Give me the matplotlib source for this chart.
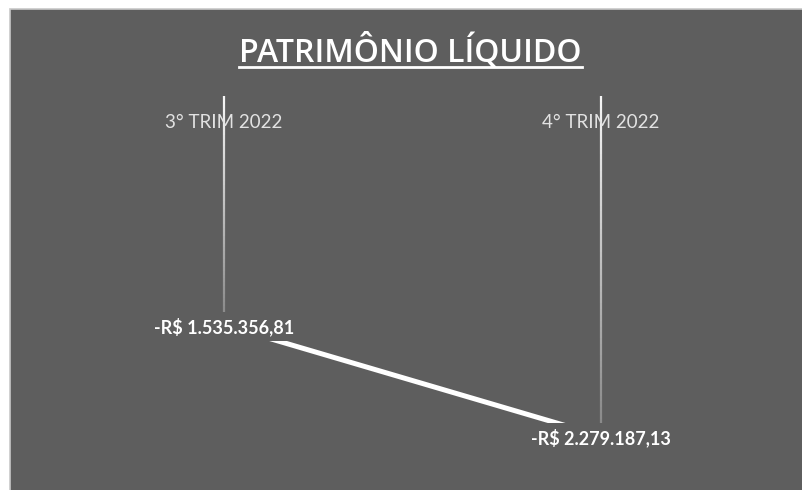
import numpy as np
import matplotlib.pyplot as plt
from matplotlib.collections import LineCollection
from matplotlib.patches import Rectangle
from matplotlib.lines import Line2D

categorias = ["3° TRIM 2022", "4° TRIM 2022"]
valores = [-1535356.81, -2279187.13]
rotulos = ["-R$ 1.535.356,81", "-R$ 2.279.187,13"]
titulo = "PATRIMÔNIO LÍQUIDO"

W, H = 803, 490
fundo = "#5e5e5e"

fig = plt.figure(figsize=(W / 100, H / 100), dpi=100)
fig.patch.set_facecolor("white")
fig.patches.append(Rectangle((10 / W, -0.1), 1, 1.1 - 9 / H, transform=fig.transFigure,
                             facecolor=fundo, edgecolor="#c8c8c8", lw=1.2, zorder=-1))

# plot area: category 0 at x=224px, 1 at x=601px; zero at y=96px
left = (224 - 188.5) / W
ax = fig.add_axes([left, (H - 469) / H, 754 / W, 373 / H])
ax.set_facecolor("none")
ax.set_xlim(-0.5, 1.5)
ax.set_ylim(-2.5e6, 0)
for s in ax.spines.values():
    s.set_visible(False)
ax.set_xticks([])
ax.set_yticks([])

x = np.arange(len(valores))

# drop lines with fading
for xi, v in zip(x, valores):
    ys = np.linspace(0, v, 60)
    segs = [[(xi, ys[i]), (xi, ys[i + 1])] for i in range(len(ys) - 1)]
    alphas = np.linspace(0.95, 0.25, len(segs))
    cols = [(1, 1, 1, a) for a in alphas]
    ax.add_collection(LineCollection(segs, colors=cols, linewidths=1.6, zorder=1))

ax.plot(x, valores, color="white", lw=3.6, solid_capstyle="butt", zorder=2)

for xi, v, r in zip(x, valores, rotulos):
    ax.annotate(r, (xi, v), xytext=(0, -1), textcoords="offset points",
                ha="center", va="center", fontsize=13, fontweight="bold",
                family="Lato", color="white", zorder=5,
                bbox=dict(boxstyle="square,pad=0.3", facecolor=fundo, edgecolor="none"))

for xi, c in zip(x, categorias):
    ax.text(xi, 1 - (122 - 96) / 373, c, transform=ax.get_xaxis_transform(),
            ha="center", va="center", fontsize=13.5, family="Lato",
            color="#e2e2e2", zorder=5)

t = fig.text(410.5 / W, 1 - 62 / H, titulo, ha="center", va="baseline",
             fontsize=23, fontweight="semibold", family="Open Sans", color="white")

fig.canvas.draw()
bb = t.get_window_extent()
yl = (H - 67) / H
fig.lines.append(Line2D([bb.x0 / W, bb.x1 / W], [yl, yl], transform=fig.transFigure,
                        color="white", lw=2))

fig.savefig("out.png", dpi=100, facecolor=fig.get_facecolor())
